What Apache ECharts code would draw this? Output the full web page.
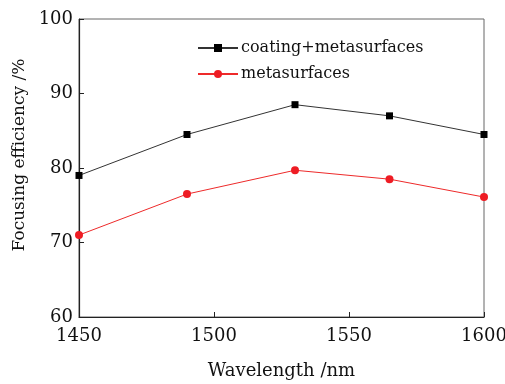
<!DOCTYPE html>
<html>
<head>
<meta charset="utf-8">
<script src="https://cdn.jsdelivr.net/npm/echarts@6/dist/echarts.min.js"></script>
<style>html,body{margin:0;padding:0;background:#fff;}#c{width:505px;height:384px;}</style>
</head>
<body>
<div id="c"></div>
<script>
const wavelengths = [1450, 1490, 1530, 1565, 1600];
const coatingMeta = [79.0, 84.5, 88.5, 87.0, 84.5];
const metaOnly = [71.0, 76.5, 79.7, 78.5, 76.1];
const seriesNames = ['coating+metasurfaces', 'metasurfaces'];
const xTitle = 'Wavelength /nm';
const yTitle = 'Focusing efficiency /%';

const font = 'DejaVu Serif';
const chart = echarts.init(document.getElementById('c'));
chart.setOption({
  animation: false,
  backgroundColor: '#fff',
  grid: {left: 79, right: 21, top: 19, bottom: 67, show: true, borderColor: '#666', borderWidth: 1, outerBoundsMode: 'none', containLabel: false},
  legend: {
    orient: 'vertical', left: 192, top: 35, itemWidth: 40, itemHeight: 10, itemGap: 10,
    textStyle: {fontFamily: font, fontSize: 16, color: '#111', padding: [0,0,0,-2]},
    data: seriesNames
  },
  xAxis: {
    type: 'value', min: 1450, max: 1600, interval: 50,
    name: xTitle, nameLocation: 'middle', nameGap: 45,
    nameTextStyle: {fontFamily: font, fontSize: 18, color: '#111'},
    axisLine: {lineStyle: {color: '#222', width: 1.2}},
    axisTick: {inside: true, length: 5, lineStyle: {color: '#222'}},
    axisLabel: {fontFamily: font, fontSize: 18, color: '#111', margin: 10, formatter: v => String(v)},
    splitLine: {show: false}
  },
  yAxis: {
    type: 'value', min: 60, max: 100, interval: 10,
    name: yTitle, nameLocation: 'middle', nameGap: 47, nameRotate: 90,
    nameTextStyle: {fontFamily: font, fontSize: 17, color: '#111', padding: [0,0,0,26]},
    axisLine: {lineStyle: {color: '#222', width: 1.2}},
    axisTick: {inside: true, length: 5, lineStyle: {color: '#222'}},
    axisLabel: {fontFamily: font, fontSize: 18, color: '#111', margin: 6, formatter: v => String(v)},
    splitLine: {show: false}
  },
  series: [
    {
      name: seriesNames[0], type: 'line', symbol: 'rect', symbolSize: 7,
      data: wavelengths.map((w, i) => [w, coatingMeta[i]]),
      lineStyle: {color: '#333', width: 1}, itemStyle: {color: '#000'}
    },
    {
      name: seriesNames[1], type: 'line', symbol: 'circle', symbolSize: 8,
      data: wavelengths.map((w, i) => [w, metaOnly[i]]),
      lineStyle: {color: '#ee2a2a', width: 1}, itemStyle: {color: '#ee1c24'}
    }
  ]
});
</script>
</body>
</html>
